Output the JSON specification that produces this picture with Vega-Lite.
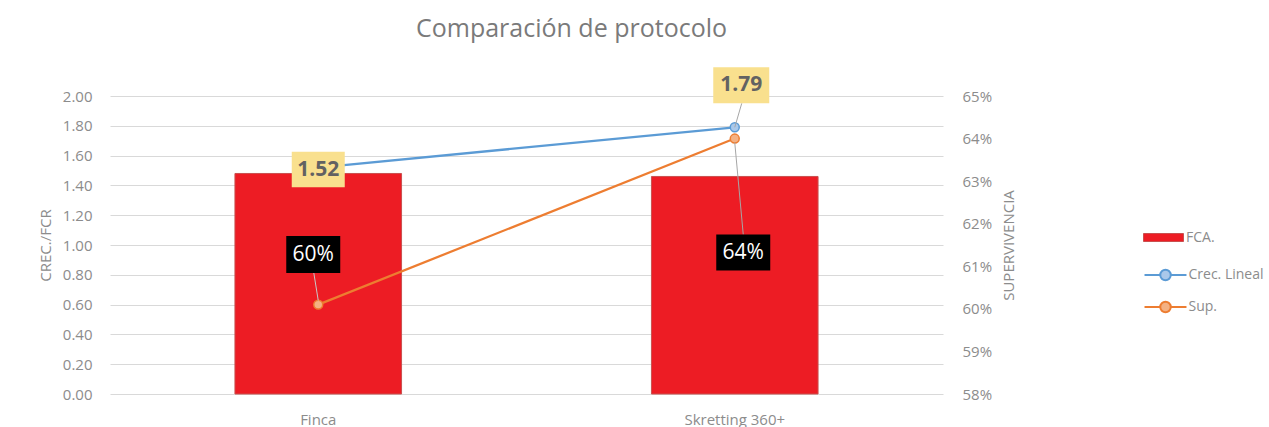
{
  "$schema": "https://vega.github.io/schema/vega-lite/v6.json",
  "width": 833,
  "height": 298,
  "autosize": {"type": "none"},
  "padding": {"left": 110, "top": 96, "right": 326, "bottom": 33},
  "background": "white",
  "title": {"text": "Comparación  de protocolo", "fontSize": 25, "font": "Open Sans", "color": "#7a7a7a", "fontWeight": "normal", "anchor": "middle", "dx": 45, "offset": 25},
  "config": {
    "font": "Open Sans",
    "view": {"stroke": null},
    "axis": {"labelFont": "Open Sans", "labelColor": "#8c8c8c", "labelFontSize": 15, "titleFont": "Open Sans", "titleColor": "#8c8c8c", "titleFontSize": 15, "titleFontWeight": "normal", "domain": false, "ticks": false, "gridColor": "#d9d9d9", "gridWidth": 1.2, "labelOverlap": false},
    "legend": {"labelFont": "Open Sans", "labelColor": "#8c8c8c", "labelFontSize": 14, "title": null}
  },
  "data": {
    "values": [
      {"protocolo": "Finca", "serie": "FCA.", "valor": 1.48},
      {"protocolo": "Skretting 360+", "serie": "FCA.", "valor": 1.46},
      {"protocolo": "Finca", "serie": "Crec. Lineal", "valor": 1.52},
      {"protocolo": "Skretting 360+", "serie": "Crec. Lineal", "valor": 1.79},
      {"protocolo": "Finca", "serie": "Sup.", "valor": 0.601},
      {"protocolo": "Skretting 360+", "serie": "Sup.", "valor": 0.64}
    ]
  },
  "encoding": {
    "x": {"field": "protocolo", "type": "nominal", "sort": null, "scale": {"paddingInner": 0.6, "paddingOuter": 0.3}, "axis": {"title": null, "labelAngle": 0, "labelPadding": 18, "grid": false}}
  },
  "layer": [
    {
      "encoding": {
        "y": {"field": "valor", "type": "quantitative", "scale": {"domain": [0, 2], "nice": false}, "axis": {"title": "CREC./FCR", "format": ".2f", "values": [0, 0.2, 0.4, 0.6, 0.8, 1, 1.2, 1.4, 1.6, 1.8, 2], "tickCount": 12, "labelOverlap": false, "labelPadding": 18, "titlePadding": 9}}
      },
      "layer": [
        {
          "transform": [{"filter": "datum.serie === 'FCA.'"}],
          "mark": {"type": "bar", "stroke": "#c9504f", "strokeWidth": 1},
          "encoding": {
            "fill": {"field": "serie", "type": "nominal", "scale": {"domain": ["FCA."], "range": ["#ed1c24"]}, "legend": {"orient": "none", "legendX": 1033, "legendY": 121, "symbolType": "M-1,-0.2H1V0.2H-1Z", "symbolSize": 1600, "symbolStrokeColor": "#c9504f", "symbolStrokeWidth": 1, "labelOffset": 2}}
          }
        },
        {
          "transform": [{"filter": "datum.serie === 'Crec. Lineal'"}],
          "mark": {"type": "line", "strokeWidth": 2.25},
          "encoding": {
            "stroke": {"field": "serie", "type": "nominal", "scale": {"domain": ["Crec. Lineal", "Sup."], "range": ["#5b9bd5", "#ed7d31"]}, "legend": {"orient": "none", "legendX": 1047.5, "legendY": 171, "rowPadding": 12, "symbolType": "M-3.2,0H-0.8M0.8,0H3.2M0.8,0A0.8,0.8 0 1,1 -0.8,0A0.8,0.8 0 1,1 0.8,0", "symbolSize": 172, "symbolStrokeWidth": 2, "labelOffset": 15, "encode": {"symbols": {"update": {"fill": {"signal": "datum.value === 'Sup.' ? '#f4b183' : '#a9c8ea'"}}}}}}
          }
        },
        {
          "transform": [{"filter": "datum.serie === 'Crec. Lineal'"}],
          "mark": {"type": "point", "filled": true, "fill": "#a9c8ea", "stroke": "#5b9bd5", "strokeWidth": 1.5, "size": 80, "opacity": 1}
        },
        {
          "transform": [{"filter": "datum.serie === 'Crec. Lineal' && datum.protocolo === 'Skretting 360+'"}],
          "mark": {"type": "rule", "color": "#a6a6a6", "strokeWidth": 1, "x2Offset": 7, "y2Offset": -24},
          "encoding": {"x2": {"field": "protocolo"}, "y2": {"field": "valor"}}
        },
        {
          "transform": [{"filter": "datum.serie === 'Crec. Lineal' && datum.protocolo === 'Finca'"}],
          "mark": {"type": "point", "shape": "M-1,-0.667H1V0.667H-1Z", "size": 2809, "filled": true, "fill": "#f9e08e", "strokeWidth": 0, "opacity": 1, "yOffset": 2}
        },
        {
          "transform": [{"filter": "datum.serie === 'Crec. Lineal' && datum.protocolo === 'Finca'"}],
          "mark": {"type": "text", "fontWeight": "bold", "fontSize": 21, "color": "#626262", "align": "center", "baseline": "middle", "yOffset": 2},
          "encoding": {"text": {"field": "valor", "type": "quantitative", "format": ".2f"}}
        },
        {
          "transform": [{"filter": "datum.serie === 'Crec. Lineal' && datum.protocolo === 'Skretting 360+'"}],
          "mark": {"type": "point", "shape": "M-1,-0.643H1V0.643H-1Z", "size": 3136, "filled": true, "fill": "#f9e08e", "strokeWidth": 0, "opacity": 1, "xOffset": 6.5, "yOffset": -42}
        },
        {
          "transform": [{"filter": "datum.serie === 'Crec. Lineal' && datum.protocolo === 'Skretting 360+'"}],
          "mark": {"type": "text", "fontWeight": "bold", "fontSize": 21, "color": "#626262", "align": "center", "baseline": "middle", "xOffset": 6.5, "yOffset": -42},
          "encoding": {"text": {"field": "valor", "type": "quantitative", "format": ".2f"}}
        }
      ]
    },
    {
      "encoding": {
        "y": {"field": "valor", "type": "quantitative", "scale": {"domain": [0.58, 0.65], "nice": false}, "axis": {"orient": "right", "title": "SUPERVIVENCIA", "titleAngle": 270, "format": ".0%", "values": [0.58, 0.59, 0.6, 0.61, 0.62, 0.63, 0.64, 0.65], "tickCount": 10, "grid": false, "labelPadding": 19, "titlePadding": 25}}
      },
      "layer": [
        {
          "transform": [{"filter": "datum.serie === 'Sup.'"}],
          "mark": {"type": "line", "strokeWidth": 2.25},
          "encoding": {"stroke": {"field": "serie", "type": "nominal"}}
        },
        {
          "transform": [{"filter": "datum.serie === 'Sup.'"}],
          "mark": {"type": "point", "filled": true, "fill": "#f4b183", "stroke": "#ed7d31", "strokeWidth": 1.5, "size": 80, "opacity": 1}
        },
        {
          "transform": [{"filter": "datum.serie === 'Sup.' && datum.protocolo === 'Finca'"}],
          "mark": {"type": "rule", "color": "#c8c8c8", "strokeWidth": 1, "yOffset": -4, "x2Offset": -4.5, "y2Offset": -32},
          "encoding": {"x2": {"field": "protocolo"}, "y2": {"field": "valor"}}
        },
        {
          "transform": [{"filter": "datum.serie === 'Sup.' && datum.protocolo === 'Skretting 360+'"}],
          "mark": {"type": "rule", "color": "#a6a6a6", "strokeWidth": 1, "yOffset": 4, "x2Offset": 8.5, "y2Offset": 96},
          "encoding": {"x2": {"field": "protocolo"}, "y2": {"field": "valor"}}
        },
        {
          "transform": [{"filter": "datum.serie === 'Sup.' && datum.protocolo === 'Finca'"}],
          "mark": {"type": "point", "shape": "M-1,-0.685H1V0.685H-1Z", "size": 2916, "filled": true, "fill": "#000000", "strokeWidth": 0, "opacity": 1, "xOffset": -5, "yOffset": -50}
        },
        {
          "transform": [{"filter": "datum.serie === 'Sup.' && datum.protocolo === 'Finca'"}],
          "mark": {"type": "text", "fontSize": 21, "color": "#ffffff", "align": "center", "baseline": "middle", "xOffset": -5, "yOffset": -50},
          "encoding": {"text": {"field": "valor", "type": "quantitative", "format": ".0%"}}
        },
        {
          "transform": [{"filter": "datum.serie === 'Sup.' && datum.protocolo === 'Skretting 360+'"}],
          "mark": {"type": "point", "shape": "M-1,-0.667H1V0.667H-1Z", "size": 2916, "filled": true, "fill": "#000000", "strokeWidth": 0, "opacity": 1, "xOffset": 8.5, "yOffset": 114}
        },
        {
          "transform": [{"filter": "datum.serie === 'Sup.' && datum.protocolo === 'Skretting 360+'"}],
          "mark": {"type": "text", "fontSize": 21, "color": "#ffffff", "align": "center", "baseline": "middle", "xOffset": 8.5, "yOffset": 114},
          "encoding": {"text": {"field": "valor", "type": "quantitative", "format": ".0%"}}
        }
      ]
    }
  ],
  "resolve": {"scale": {"y": "independent"}}
}
